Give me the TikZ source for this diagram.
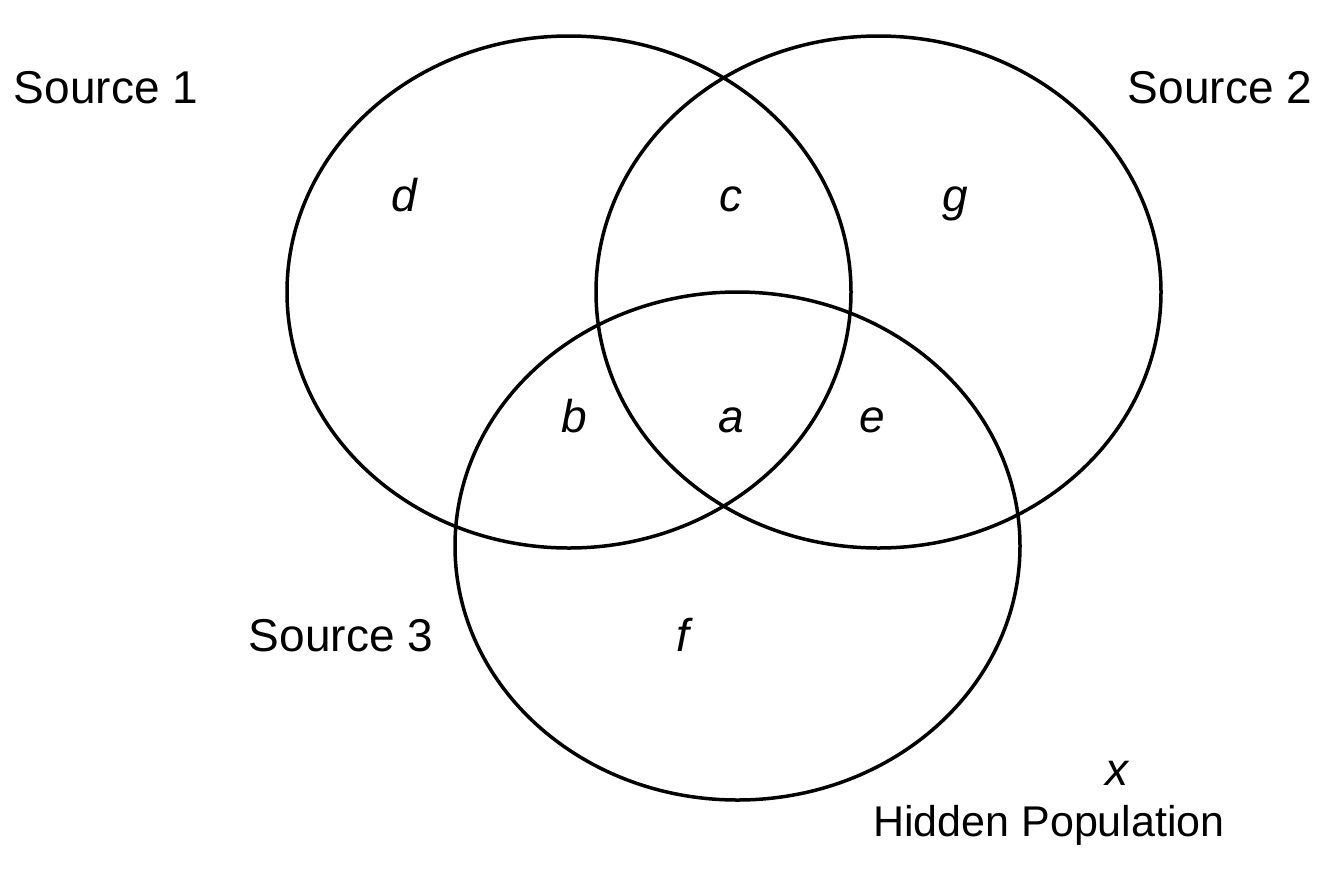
\documentclass[tikz,border=0pt]{standalone}
\usepackage{fontspec}
\setmainfont{Liberation Sans}
\begin{document}
\begin{tikzpicture}[x=1pt,y=-1pt,
  ring/.style={draw=black,line width=3.5pt},
  lbl/.style={font=\fontsize{46}{52}\selectfont,inner sep=0pt},
  hid/.style={font=\fontsize{43}{50}\selectfont,inner sep=0pt},
  var/.style={font=\fontsize{46}{52}\selectfont\itshape,inner sep=0pt,anchor=base}]
\useasboundingbox (0,0) rectangle (1326,879);
\draw[ring] (569,292) ellipse [x radius=282,y radius=256];
\draw[ring] (878.5,292) ellipse [x radius=282.5,y radius=256];
\draw[ring] (737.5,546) ellipse [x radius=282.5,y radius=254];
\node[lbl] (s1) at (106,88) {Source 1};
\node[lbl] (s2) at (1220,88) {Source 2};
\node[lbl] (s3) at (341,636) {Source 3};
\node[var] (d) at (404,211) {d};
\node[var] (c) at (731,211) {c};
\node[var] (g) at (955,211) {g};
\node[var] (b) at (574,432) {b};
\node[var] (a) at (731,432) {a};
\node[var] (e) at (872,432) {e};
\node[var] (f) at (683,651) {f};
\node[var] (x) at (1117,785) {x};
\node[hid] (hp) at (1049,825) {Hidden Population};
\end{tikzpicture}
\end{document}
